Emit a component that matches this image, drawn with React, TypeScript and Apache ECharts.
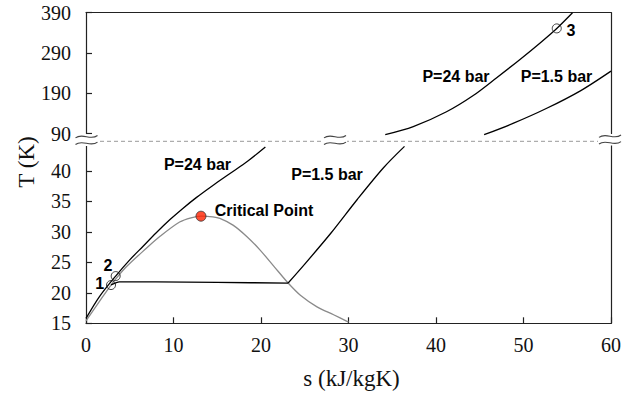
import React, { useEffect, useRef } from "react";
import * as echarts from "echarts";

// ---- data (s in kJ/kgK, T in K) ----
const xTicks = [0, 10, 20, 30, 40, 50, 60];
const upperTicks = [90, 190, 290, 390];
const lowerTicks = [15, 20, 25, 30, 35, 40, 45];

const domeS = [0, 1.5, 2.86, 4.5, 6.9, 8.5, 10.7, 12, 13.14, 14.5, 15.3, 16.8, 18.4, 19.9, 21.5, 23.1, 24.5, 26.4, 28.3, 30.0];
const domeT = [15.4, 18.5, 21.27, 24.1, 27.3, 29.3, 31.6, 32.3, 32.56, 32.45, 32.2, 31.1, 29.2, 27.0, 24.3, 21.6, 19.6, 17.7, 16.4, 15.2];

const p24LowS = [0, 1.5, 3.39, 5, 6.5, 8, 9.6, 11, 12.6, 14.5, 16.5, 18.5, 20.5];
const p24LowT = [15.8, 19.3, 22.74, 25.4, 27.6, 29.8, 32.0, 33.75, 35.6, 37.6, 39.6, 41.6, 43.9];

const flatS = [2.86, 3.8, 8, 15, 23.1];
const flatT = [21.3, 21.8, 21.8, 21.7, 21.6];

const p15LowS = [23.1, 25, 28, 31, 34, 36.4];
const p15LowT = [21.6, 24.7, 29.8, 35.3, 40.5, 44.0];

const p24UpS = [34.2, 37.4, 41.2, 44.3, 46.9, 49.6, 51.9, 53.8, 55.6];
const p24UpT = [87, 107, 144, 185, 228, 274, 315, 351, 390];

const p15UpS = [45.5, 48.8, 52.6, 56.5, 60];
const p15UpT = [87, 115, 152, 196, 245];

const stateLowS = [2.86, 3.39];
const stateLowT = [21.27, 22.74];
const state3 = [53.8, 351];
const critical = [13.14, 32.56];

const zip = (a: number[], b: number[]) => a.map((v, i) => [v, b[i]]);

const AXIS = "#222";
const SERIF = '"Liberation Serif", "Times New Roman", serif';
const SANS = '"Liberation Sans", Arial, sans-serif';

function breakMark(cx: number, cy: number) {
  const w = 11;
  const wave = (y: number) => ({
    type: "bezierCurve",
    z: 120,
    shape: { x1: cx - w, y1: y + 1.2, cpx1: cx - 4, cpy1: y - 4.5, cpx2: cx + 4, cpy2: y + 4.5, x2: cx + w, y2: y - 1.2 },
    style: { stroke: "#444", lineWidth: 1.1, fill: null },
  });
  return [
    { type: "rect", z: 110, shape: { x: cx - w - 1, y: cy - 5.5, width: 2 * w + 2, height: 11.5 }, style: { fill: "#fff" } },
    wave(cy - 3.3),
    wave(cy + 3.3),
  ];
}

export default function App() {
  const ref = useRef<HTMLDivElement>(null);
  useEffect(() => {
    if (!ref.current) return;
    const chart = echarts.init(ref.current, null, { renderer: "svg" });
    const lineStyle = { color: AXIS, width: 1.2 };
    const black = { color: "#000", width: 1.3 };
    const baseLine = { type: "line", showSymbol: false, symbol: "none", smooth: 0.3 };
    const option: any = {
      animation: false,
      backgroundColor: "#fff",
      grid: [
        { left: 86, right: 21, top: 12.7, height: 120.8 },
        { left: 86, right: 21, top: 140.3, height: 183 },
      ],
      xAxis: [
        {
          gridIndex: 0, type: "value", min: xTicks[0], max: xTicks[xTicks.length - 1], interval: 10, position: "top",
          axisLine: { show: true, onZero: false, lineStyle }, axisTick: { show: false }, axisLabel: { show: false }, splitLine: { show: false },
        },
        {
          gridIndex: 1, type: "value", min: xTicks[0], max: xTicks[xTicks.length - 1], interval: 10, position: "bottom",
          axisLine: { show: true, onZero: false, lineStyle },
          axisTick: { show: true, inside: true, length: 6, lineStyle },
          axisLabel: { margin: 12, fontFamily: SERIF, fontSize: 20, color: "#111" },
          splitLine: { show: false },
        },
      ],
      yAxis: [
        {
          gridIndex: 0, type: "value", min: upperTicks[0], max: upperTicks[upperTicks.length - 1], interval: 100,
          axisLine: { show: true, onZero: false, lineStyle },
          axisTick: { show: true, inside: true, length: 6, lineStyle },
          axisLabel: { margin: 15, fontFamily: SERIF, fontSize: 20, color: "#111" },
          splitLine: { show: false },
        },
        {
          gridIndex: 1, type: "value", min: lowerTicks[0], max: lowerTicks[lowerTicks.length - 1], interval: 5,
          axisLine: { show: true, onZero: false, lineStyle },
          axisTick: { show: true, inside: true, length: 6, lineStyle },
          axisLabel: {
            margin: 15, fontFamily: SERIF, fontSize: 20, color: "#111",
            formatter: (v: number) => (v === lowerTicks[lowerTicks.length - 1] ? "" : String(v)),
          },
          splitLine: { show: false },
        },
        {
          gridIndex: 0, type: "value", position: "right", min: upperTicks[0], max: upperTicks[upperTicks.length - 1],
          axisLine: { show: true, onZero: false, lineStyle }, axisTick: { show: false }, axisLabel: { show: false }, splitLine: { show: false },
        },
        {
          gridIndex: 1, type: "value", position: "right", min: lowerTicks[0], max: lowerTicks[lowerTicks.length - 1],
          axisLine: { show: true, onZero: false, lineStyle }, axisTick: { show: false }, axisLabel: { show: false }, splitLine: { show: false },
        },
      ],
      series: [
        { ...baseLine, name: "dome", xAxisIndex: 1, yAxisIndex: 1, data: zip(domeS, domeT), lineStyle: { color: "#8a8a8a", width: 1.3 } },
        { ...baseLine, name: "P24 low", xAxisIndex: 1, yAxisIndex: 1, data: zip(p24LowS, p24LowT), lineStyle: black },
        { ...baseLine, smooth: 0.2, name: "flat", xAxisIndex: 1, yAxisIndex: 1, data: zip(flatS, flatT), lineStyle: black },
        { ...baseLine, name: "P15 low", xAxisIndex: 1, yAxisIndex: 1, data: zip(p15LowS, p15LowT), lineStyle: black },
        { ...baseLine, name: "P24 up", xAxisIndex: 0, yAxisIndex: 0, clip: false, data: zip(p24UpS, p24UpT), lineStyle: black },
        { ...baseLine, name: "P15 up", xAxisIndex: 0, yAxisIndex: 0, clip: false, data: zip(p15UpS, p15UpT), lineStyle: black },
        {
          type: "scatter", name: "states", xAxisIndex: 1, yAxisIndex: 1, z: 5, symbolSize: 9,
          data: zip(stateLowS, stateLowT),
          itemStyle: { color: "rgba(0,0,0,0)", borderColor: "#111", borderWidth: 1 },
        },
        {
          type: "scatter", name: "state3", xAxisIndex: 0, yAxisIndex: 0, z: 5, symbolSize: 9,
          data: [state3],
          itemStyle: { color: "rgba(0,0,0,0)", borderColor: "#111", borderWidth: 1 },
        },
        {
          type: "scatter", name: "critical", xAxisIndex: 1, yAxisIndex: 1, z: 6, symbolSize: 10,
          data: [critical],
          itemStyle: { color: "#ff2200", borderColor: "#333", borderWidth: 1 },
        },
      ],
      graphic: [
        { type: "line", z: 100, shape: { x1: 86, y1: 141.3, x2: 611, y2: 141.3 }, style: { stroke: "#999", lineWidth: 1, lineDash: [4, 3] } },
        ...breakMark(86.5, 140),
        ...breakMark(335, 140),
        ...breakMark(610, 139.5),
        { type: "text", z: 130, x: 197.5, y: 164, style: { text: "P=24 bar", font: `bold 16px ${SANS}`, fill: "#000", align: "center", verticalAlign: "middle" } },
        { type: "text", z: 130, x: 264, y: 210, style: { text: "Critical Point", font: `bold 16px ${SANS}`, fill: "#000", align: "center", verticalAlign: "middle" } },
        { type: "text", z: 130, x: 327, y: 174.5, style: { text: "P=1.5 bar", font: `bold 16px ${SANS}`, fill: "#000", align: "center", verticalAlign: "middle" } },
        { type: "text", z: 130, x: 456, y: 76, style: { text: "P=24 bar", font: `bold 16px ${SANS}`, fill: "#000", align: "center", verticalAlign: "middle" } },
        { type: "text", z: 130, x: 556.5, y: 76, style: { text: "P=1.5 bar", font: `bold 16px ${SANS}`, fill: "#000", align: "center", verticalAlign: "middle" } },
        { type: "text", z: 130, x: 571, y: 30.5, style: { text: "3", font: `bold 16px ${SANS}`, fill: "#000", align: "center", verticalAlign: "middle" } },
        { type: "text", z: 130, x: 108, y: 265.5, style: { text: "2", font: `bold 16px ${SANS}`, fill: "#000", align: "center", verticalAlign: "middle" } },
        { type: "text", z: 130, x: 99.7, y: 283.5, style: { text: "1", font: `bold 16px ${SANS}`, fill: "#000", align: "center", verticalAlign: "middle" } },
        { type: "text", z: 130, x: 26.5, y: 162, rotation: Math.PI / 2, style: { text: "T (K)", font: `23px ${SERIF}`, fill: "#111", align: "center", verticalAlign: "middle" } },
        { type: "text", z: 130, x: 351.5, y: 378.5, style: { text: "s (kJ/kgK)", font: `23px ${SERIF}`, fill: "#111", align: "center", verticalAlign: "middle" } },
      ],
    };
    chart.setOption(option);
    return () => chart.dispose();
  }, []);
  return <div ref={ref} style={{ position: "fixed", left: 0, top: 0, width: 632, height: 395, background: "#fff" }} />;
}
